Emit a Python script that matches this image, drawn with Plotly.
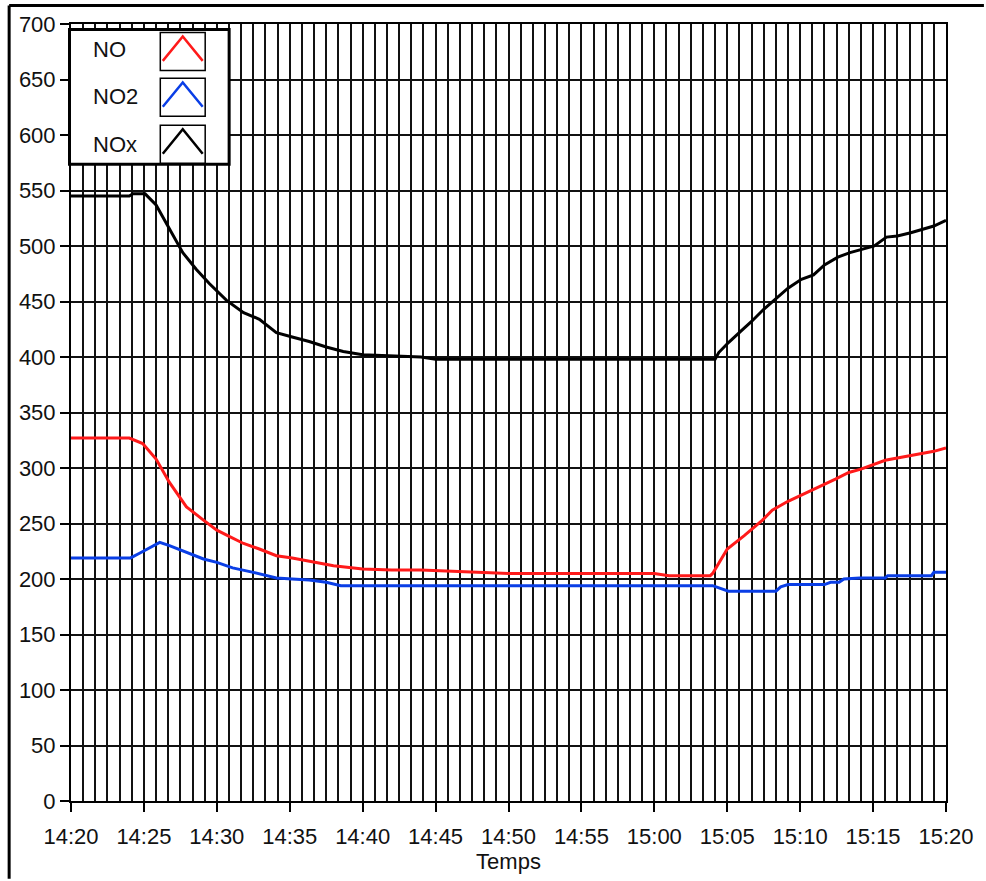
import plotly.graph_objects as go

# ---------------- data ----------------
DAY = "2024-01-01 "

nox_time = ["14:20:00", "14:24:00", "14:24:15", "14:25:05", "14:25:50", "14:26:45", "14:27:40",
            "14:28:35", "14:29:30", "14:30:40", "14:31:50", "14:32:55", "14:34:05", "14:35:10",
            "14:36:20", "14:37:30", "14:38:40", "14:40:00", "14:42:00", "14:44:00", "14:45:00",
            "15:04:10", "15:04:25", "15:05:05", "15:05:55", "15:06:40", "15:07:30", "15:08:25",
            "15:09:10", "15:10:05", "15:10:55", "15:11:40", "15:12:35", "15:13:25", "15:14:10",
            "15:15:05", "15:15:55", "15:16:40", "15:17:35", "15:18:25", "15:19:10", "15:20:00"]
nox_vals = [545, 545, 547, 547, 537, 515, 494,
            479, 466, 451, 440, 434, 422, 418,
            414, 409, 405, 402, 401, 400, 398,
            398, 404, 413, 423, 432, 443, 453,
            462, 470, 474, 483, 490, 494, 497,
            500, 508, 509, 512, 515, 518, 523]

no_time = ["14:20:00", "14:24:00", "14:24:55", "14:25:50", "14:26:45", "14:27:55", "14:29:05",
           "14:30:00", "14:30:55", "14:31:50", "14:32:55", "14:34:05", "14:35:10", "14:36:20",
           "14:38:00", "14:40:00", "14:42:00", "14:44:00", "14:46:00", "14:48:00", "14:50:00",
           "15:00:00", "15:01:00", "15:03:50", "15:04:00", "15:05:00", "15:06:10", "15:07:25",
           "15:08:05", "15:09:10", "15:10:50", "15:12:25", "15:13:20", "15:14:10", "15:15:50",
           "15:17:35", "15:19:10", "15:20:00"]
no_vals = [327, 327, 322, 308, 287, 265, 253,
           244, 238, 232, 227, 221, 219, 216,
           212, 209, 208, 208, 207, 206, 205,
           205, 203, 203, 205, 227, 239, 253,
           262, 270, 280, 290, 296, 299, 307,
           311, 315, 318]

no2_time = ["14:20:00", "14:24:05", "14:24:40", "14:26:05", "14:26:45", "14:27:55", "14:29:05",
            "14:30:00", "14:31:05", "14:32:30", "14:33:10", "14:34:05", "14:35:10", "14:36:20",
            "14:37:30", "14:38:30", "15:04:00", "15:04:30", "15:05:05", "15:08:20", "15:08:40",
            "15:09:10", "15:11:40", "15:12:05", "15:12:40", "15:13:00", "15:14:05", "15:15:50",
            "15:16:00", "15:19:00", "15:19:10", "15:20:00"]
no2_vals = [219, 219, 223, 233, 230, 224, 218,
            215, 210, 206, 204, 201, 200, 199,
            197, 194, 194, 192, 189, 189, 193,
            195, 195, 197, 197, 200, 201, 201,
            203, 203, 206, 206]

series_names = ["NO", "NO2", "NOx"]
series_colors = ["#ff1a1a", "#0a3ee6", "#000000"]

x_start, x_end = "14:20:00", "15:20:00"
y_min, y_max, y_step = 0, 700, 50

# ---------------- layout geometry (pixels) ----------------
W, H = 986, 881
L, R, T, B = 71, 948, 24, 803
FONT = "Liberation Sans, Arial, sans-serif"


def px(x):
    return (x - L) / (R - L)


def py(y):
    return (B - y) / (B - T)


fig = go.Figure()
for name, tt, vv, col in [("NO", no_time, no_vals, series_colors[0]),
                          ("NO2", no2_time, no2_vals, series_colors[1]),
                          ("NOx", nox_time, nox_vals, series_colors[2])]:
    fig.add_trace(go.Scatter(x=[DAY + t for t in tt], y=vv, mode="lines", name=name,
                             line=dict(color=col, width=3), showlegend=False))

shapes = []
# outer frame (top and left thick borders)
shapes.append(dict(type="line", xref="paper", yref="paper", x0=px(9), x1=px(W), y0=py(5.5), y1=py(5.5),
                   line=dict(color="black", width=3), layer="above"))
shapes.append(dict(type="line", xref="paper", yref="paper", x0=px(9), x1=px(9), y0=py(5.5), y1=py(H),
                   line=dict(color="black", width=3), layer="above"))
# legend box
shapes.append(dict(type="rect", xref="paper", yref="paper", x0=px(69.5), x1=px(229.5), y0=py(29.5), y1=py(164.5),
                   line=dict(color="black", width=3), fillcolor="white", layer="above"))
annotations = []
box_tops = [32, 78, 125]
text_y = [50, 97, 145]
for i, name in enumerate(series_names):
    t0 = box_tops[i]
    shapes.append(dict(type="rect", xref="paper", yref="paper", x0=px(160.5), x1=px(205.5),
                       y0=py(t0 + 0.5), y1=py(t0 + 38.5),
                       line=dict(color="black", width=1.5), fillcolor="white", layer="above"))
    path = "M {:.5f},{:.5f} L {:.5f},{:.5f} L {:.5f},{:.5f}".format(
        px(163), py(t0 + 29), px(183), py(t0 + 4.5), px(203), py(t0 + 29))
    shapes.append(dict(type="path", xref="paper", yref="paper", path=path,
                       line=dict(color=series_colors[i], width=2.5), layer="above"))
    annotations.append(dict(xref="paper", yref="paper", x=px(91), y=py(text_y[i]), xanchor="left",
                            yanchor="middle", text=name, showarrow=False,
                            font=dict(family=FONT, size=22, color="#111")))

fig.update_layout(
    width=W, height=H,
    margin=dict(l=L, r=W - R, t=T, b=H - B, pad=0),
    paper_bgcolor="white", plot_bgcolor="white",
    font=dict(family=FONT, size=22, color="#111"),
    shapes=shapes, annotations=annotations,
    showlegend=False,
)
fig.update_xaxes(
    type="date", range=[DAY + x_start, DAY + x_end], dtick=300000, tickformat="%H:%M",
    ticks="outside", ticklen=9, tickwidth=1.5, tickcolor="black",
    showgrid=True, gridcolor="#111", gridwidth=2,
    minor=dict(dtick=50000, showgrid=True, gridcolor="#111", gridwidth=2, ticks=""),
    showline=True, linecolor="black", linewidth=2, mirror=True,
    tickfont=dict(family=FONT, size=22, color="#111"), ticklabelstandoff=6,
    title=dict(text="Temps", font=dict(family=FONT, size=22, color="#111"), standoff=4),
    zeroline=False,
)
fig.update_yaxes(
    range=[y_min, y_max], dtick=y_step, tick0=0,
    ticks="outside", ticklen=9, tickwidth=1.5, tickcolor="black",
    showgrid=True, gridcolor="#111", gridwidth=2,
    showline=True, linecolor="black", linewidth=2, mirror=True,
    tickfont=dict(family=FONT, size=22, color="#111"),
    zeroline=False,
)

fig.write_html("out.html")
